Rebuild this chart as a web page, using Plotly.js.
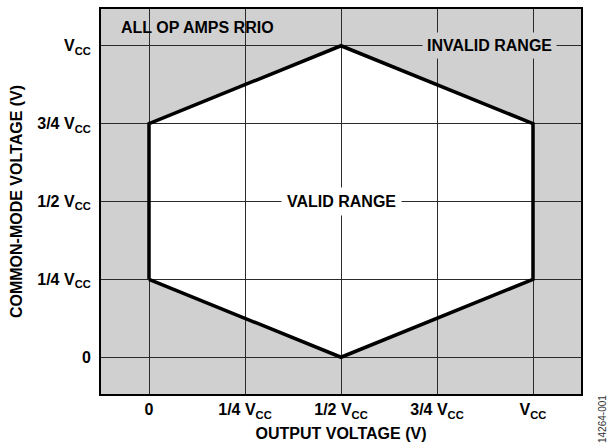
<!DOCTYPE html>
<html>
<head>
<meta charset="utf-8">
<script src="https://cdn.plot.ly/plotly-3.0.1.min.js"></script>
<style>html,body{margin:0;padding:0;background:#fff;}#chart{width:609px;height:444px;}</style>
</head>
<body>
<div id="chart"></div>
<script>
// Data (fractions of Vcc)
const tickVals = [0, 0.25, 0.5, 0.75, 1];
const xTickText = ['0', '1/4 V<sub>CC</sub>', '1/2 V<sub>CC</sub>', '3/4 V<sub>CC</sub>', 'V<sub>CC</sub>'];
const yTickText = ['0', '1/4 V<sub>CC</sub>', '1/2 V<sub>CC</sub>', '3/4 V<sub>CC</sub>', 'V<sub>CC</sub>'];
const hexX = [0, 0, 0.5, 1, 1, 0.5, 0];
const hexY = [0.25, 0.75, 1, 0.75, 0.25, 0, 0.25];

const FONT = 'Liberation Sans, Arial, Helvetica, sans-serif';
const GRAY = '#d0d0d0';

let path = '';
for (let i = 0; i < hexX.length; i++) {
  path += (i === 0 ? 'M' : 'L') + hexX[i] + ',' + hexY[i] + ' ';
}
path += 'Z';

const traces = [{
  type: 'scatter', mode: 'lines', x: hexX, y: hexY,
  line: {color: '#000', width: 3.5}, hoverinfo: 'skip', showlegend: false
}];

const axisCommon = {
  tickvals: tickVals, showgrid: true, gridcolor: '#2a2a2a', gridwidth: 1,
  zeroline: false, showline: true, mirror: true, linecolor: '#000', linewidth: 2,
  ticks: '', tickfont: {family: FONT, size: 16, color: '#000', weight: 'bold'},
  fixedrange: true
};

const layout = {
  width: 609, height: 444,
  margin: {l: 101, r: 28, t: 9, b: 50},
  paper_bgcolor: '#fff', plot_bgcolor: GRAY,
  showlegend: false,
  xaxis: Object.assign({}, axisCommon, {
    range: [-0.125, 1.125], ticktext: xTickText,
    title: {text: 'OUTPUT VOLTAGE (V)', font: {family: FONT, size: 16, color: '#000', weight: 'bold'}, standoff: 8}
  }),
  yaxis: Object.assign({}, axisCommon, {
    range: [-0.118, 1.118], ticktext: yTickText, ticklabelstandoff: 5,
    title: {text: 'COMMON-MODE VOLTAGE (V)', font: {family: FONT, size: 16, color: '#000', weight: 'bold'}, standoff: 11}
  }),
  shapes: [{
    type: 'path', path: path, xref: 'x', yref: 'y', layer: 'below',
    fillcolor: '#fff', line: {width: 0}
  }],
  annotations: [
    {text: 'ALL OP AMPS RRIO', x: -0.079, y: 1.06, xref: 'x', yref: 'y', xanchor: 'left', yanchor: 'middle',
     showarrow: false, font: {family: FONT, size: 16, color: '#000', weight: 'bold'}},
    {text: 'INVALID RANGE', x: 0.888, y: 1.0, xref: 'x', yref: 'y', xanchor: 'center', yanchor: 'middle',
     showarrow: false, bgcolor: GRAY, borderpad: 4, font: {family: FONT, size: 16, color: '#000', weight: 'bold'}},
    {text: 'VALID RANGE', x: 0.5, y: 0.5, xref: 'x', yref: 'y', xanchor: 'center', yanchor: 'middle',
     showarrow: false, bgcolor: '#fff', borderpad: 5, font: {family: FONT, size: 16, color: '#000', weight: 'bold'}},
    {text: '14264-001', x: 0, y: 0, xref: 'paper', yref: 'paper', showarrow: false, textangle: -90,
     font: {family: FONT, size: 10, color: '#333'}}
  ]
};
layout.annotations[3].x = (603 - 101) / (609 - 101 - 28);
layout.annotations[3].y = (394 - 419) / (444 - 9 - 50);
layout.annotations[3].xanchor = 'center';
layout.annotations[3].yanchor = 'middle';

Plotly.newPlot('chart', traces, layout, {staticPlot: true, displayModeBar: false});
</script>
</body>
</html>
